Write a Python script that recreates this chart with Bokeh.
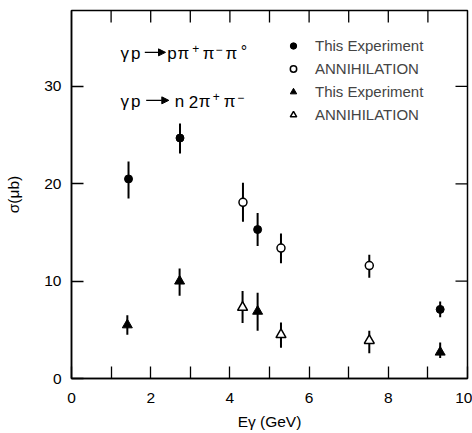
import math
from bokeh.plotting import figure
from bokeh.models import (Range1d, LinearAxis, FixedTicker, Legend, LegendItem,
                          Label, Arrow, NormalHead)
from bokeh.embed import file_html
from bokeh.resources import INLINE

# ---- data ----
exp_omega_x = [1.44, 2.74, 4.70, 9.31]
exp_omega_y = [20.5, 24.7, 15.3, 7.1]
exp_omega_lo = [18.5, 23.1, 13.6, 6.3]
exp_omega_hi = [22.3, 26.2, 17.0, 7.9]

ann_omega_x = [4.33, 5.29, 7.52]
ann_omega_y = [18.1, 13.4, 11.6]
ann_omega_lo = [16.1, 11.85, 10.35]
ann_omega_hi = [20.1, 14.9, 12.7]

exp_n_x = [1.41, 2.73, 4.70, 9.31]
exp_n_y = [5.5, 10.0, 6.9, 2.7]
exp_n_lo = [4.5, 8.5, 4.9, 2.1]
exp_n_hi = [6.5, 11.3, 8.8, 3.7]

ann_n_x = [4.32, 5.29, 7.52]
ann_n_y = [7.3, 4.5, 3.9]
ann_n_lo = [5.7, 3.15, 2.6]
ann_n_hi = [9.0, 5.75, 4.9]

x_major = [0, 2, 4, 6, 8, 10]
x_minor = [1, 3, 5, 7, 9]
y_major = [0, 10, 20, 30]
x_top_ticks = [1, 2, 3, 4, 5, 6, 7, 8, 9]
y_right_ticks = [10, 20, 30]

X_MAX = 10
Y_MAX = 37.8

legend_labels = ["This Experiment", "ANNIHILATION", "This Experiment", "ANNIHILATION"]

# reaction labels: (text, x, y, font size)
reaction1 = [("γ", 1.237, 33.42, "17px"),
             ("p", 1.50, 33.42, "17px"),
             ("p", 2.417, 33.42, "17px"),
             ("π", 2.677, 33.42, "17px"),
             ("+", 3.048, 33.92, "12px"),
             ("π", 3.316, 33.42, "17px"),
             ("−", 3.636, 33.76, "12px"),
             ("π", 3.889, 33.42, "17px"),
             ("°", 4.275, 33.60, "16px")]
reaction2 = [("γ", 1.237, 28.45, "17px"),
             ("p", 1.50, 28.45, "17px"),
             ("n", 2.609, 28.45, "17px"),
             ("2", 2.962, 28.45, "17px"),
             ("π", 3.215, 28.45, "17px"),
             ("+", 3.568, 28.92, "12px"),
             ("π", 3.846, 28.45, "17px"),
             ("−", 4.184, 28.82, "12px")]
arrows = [(1.851, 2.374, 33.5), (1.886, 2.457, 28.57)]

FONT = "Liberation Sans"
FS = "15.5px"

p = figure(width=472, height=433, output_backend="svg", toolbar_location=None,
           x_axis_location=None, y_axis_location=None,
           x_range=Range1d(0, X_MAX), y_range=Range1d(0, Y_MAX),
           min_border_left=71, min_border_right=5, min_border_top=10,
           min_border_bottom=55)
p.xgrid.visible = False
p.ygrid.visible = False
p.outline_line_color = "black"
p.outline_line_width = 1.5
p.background_fill_color = "white"
p.border_fill_color = "white"


def make_axis(ticks, minor, label):
    ax = LinearAxis(ticker=FixedTicker(ticks=ticks, minor_ticks=minor))
    ax.axis_line_color = "black"
    ax.axis_line_width = 1.5
    ax.major_tick_in = 12
    ax.major_tick_out = 0
    ax.minor_tick_in = 12
    ax.minor_tick_out = 0
    ax.major_tick_line_width = 1.3
    ax.minor_tick_line_width = 1.3
    ax.major_label_text_font = FONT
    ax.major_label_text_color = "black"
    ax.major_label_text_font_size = FS
    ax.axis_label = label
    ax.axis_label_text_font = FONT
    ax.axis_label_text_font_size = FS
    ax.axis_label_text_font_style = "normal"
    ax.axis_label_text_color = "black"
    return ax


bottom = make_axis(x_major, x_minor, "Eγ (GeV)")
bottom.major_label_standoff = 14
bottom.axis_label_standoff = 7
left = make_axis(y_major, [], "σ(μb)")
left.major_label_standoff = 10
left.axis_label_standoff = 19
p.add_layout(bottom, "below")
p.add_layout(left, "left")

# inward ticks on the top and right edges
p.ray(x=x_top_ticks, y=[Y_MAX] * len(x_top_ticks), length=12,
      length_units="screen", angle=-math.pi / 2, line_color="black",
      line_width=1.3)
p.ray(x=[X_MAX] * len(y_right_ticks), y=y_right_ticks, length=12,
      length_units="screen", angle=math.pi, line_color="black",
      line_width=1.3)

# error bars
for xs, lo, hi in [(exp_omega_x, exp_omega_lo, exp_omega_hi),
                   (ann_omega_x, ann_omega_lo, ann_omega_hi),
                   (exp_n_x, exp_n_lo, exp_n_hi),
                   (ann_n_x, ann_n_lo, ann_n_hi)]:
    p.segment(x0=xs, y0=lo, x1=xs, y1=hi, line_color="black", line_width=2)

r1 = p.scatter(exp_omega_x, exp_omega_y, marker="circle", size=8,
               fill_color="black", line_color="black")
r2 = p.scatter(ann_omega_x, ann_omega_y, marker="circle", size=8,
               fill_color="white", line_color="black", line_width=1.5)
r3 = p.scatter(exp_n_x, exp_n_y, marker="triangle", size=10,
               fill_color="black", line_color="black")
r4 = p.scatter(ann_n_x, ann_n_y, marker="triangle", size=10,
               fill_color="white", line_color="black", line_width=1.5)

legend = Legend(items=[LegendItem(label=legend_labels[i], renderers=[r])
                       for i, r in enumerate([r1, r2, r3, r4])],
                location=(214, 254))
legend.label_text_font = FONT
legend.label_text_font_size = "15px"
legend.glyph_width = 16
legend.glyph_height = 19
legend.label_height = 19
legend.label_standoff = 14
legend.spacing = 4
legend.padding = 0
legend.margin = 0
legend.border_line_color = None
legend.background_fill_alpha = 0
p.add_layout(legend)

for pieces in (reaction1, reaction2):
    for (t, x, y, fs) in pieces:
        p.add_layout(Label(x=x, y=y, text=t, text_font=FONT,
                           text_font_size=fs, text_baseline="middle",
                           text_color="black"))
for (a0, a1, ay) in arrows:
    p.add_layout(Arrow(x_start=a0, y_start=ay, x_end=a1, y_end=ay,
                       line_width=1.3, line_color="black",
                       end=NormalHead(size=7, fill_color="black",
                                      line_color="black")))

open("out.html", "w").write(file_html(p, INLINE))
